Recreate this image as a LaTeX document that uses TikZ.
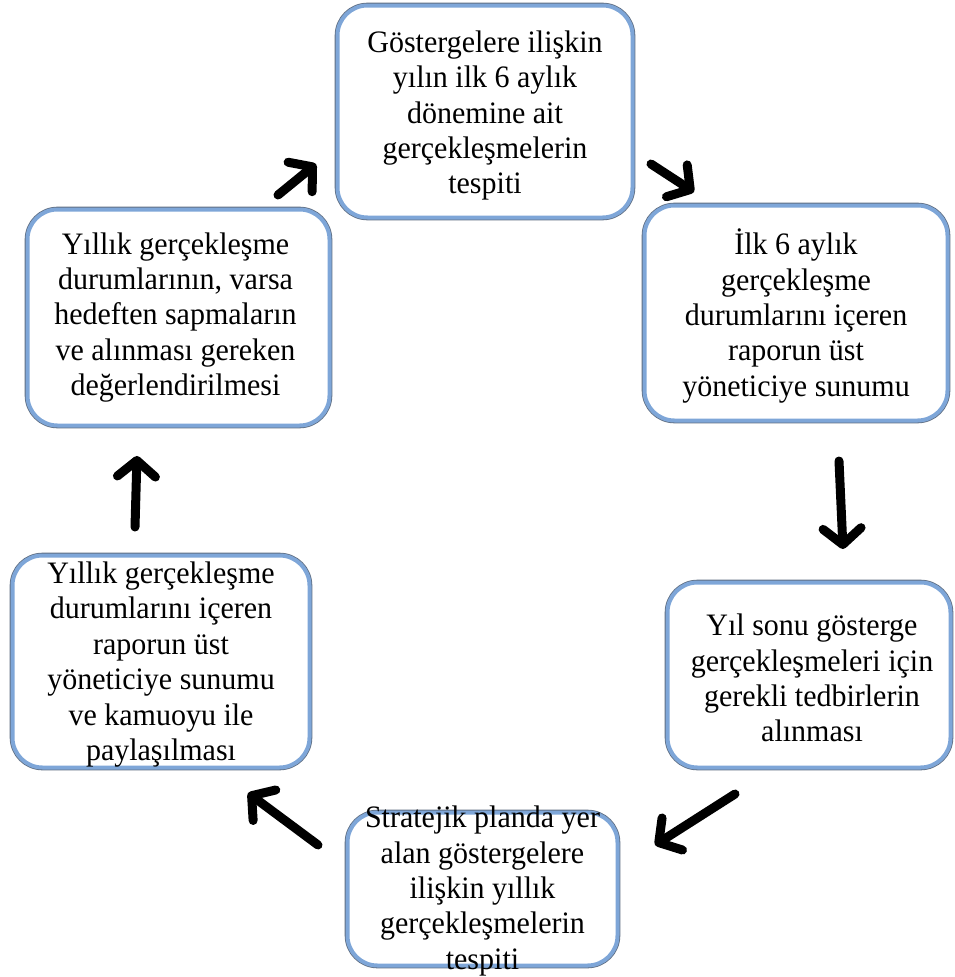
\documentclass[tikz,border=0pt]{standalone}
\usepackage{fontspec}
\setmainfont{Liberation Serif}
\usetikzlibrary{arrows.meta}
\definecolor{boxblue}{RGB}{126,166,216}
\definecolor{boxedge}{RGB}{95,110,130}
\tikzset{
  cyclebox/.style={rectangle, rounded corners=30pt, fill=white, draw=boxblue, line width=4pt,
    preaction={draw=boxedge, line width=5.6pt}, inner sep=0pt},
  boxtext/.style={align=center, inner sep=0pt, font=\fontsize{30}{34}\selectfont, yscale=1.04},
  flow/.style={line width=9pt, line cap=round, -{Straight Barb[length=16pt, width=38pt, round]}}
}
\begin{document}
\begin{tikzpicture}[x=1pt, y=-1pt]
\useasboundingbox (0,0) rectangle (955,977);
% boxes
\node[cyclebox, minimum width=295pt, minimum height=212pt] (b1) at (485,111.5) {};
\node[cyclebox, minimum width=303pt, minimum height=215pt] (b2) at (796,313) {};
\node[cyclebox, minimum width=283pt, minimum height=185pt] (b3) at (809,675) {};
\node[cyclebox, minimum width=270pt, minimum height=153pt] (b4) at (482.5,889) {};
\node[cyclebox, minimum width=297pt, minimum height=212pt] (b5) at (161,661.5) {};
\node[cyclebox, minimum width=302pt, minimum height=216pt] (b6) at (178.5,317.5) {};
% texts
\node[boxtext] (t1) at ([yshift=-4pt]b1.center) {Göstergelere ilişkin\\yılın ilk 6 aylık\\dönemine ait\\gerçekleşmelerin\\tespiti};
\node[boxtext] (t2) at ([yshift=-3pt]b2.center) {İlk 6 aylık\\gerçekleşme\\durumlarını içeren\\raporun üst\\yöneticiye sunumu};
\node[boxtext] (t3) at ([xshift=3pt,yshift=-3pt]b3.center) {Yıl sonu gösterge\\gerçekleşmeleri için\\gerekli tedbirlerin\\alınması};
\node[boxtext] (t4) at ([yshift=-2pt]b4.center) {Stratejik planda yer\\alan göstergelere\\ilişkin yıllık\\gerçekleşmelerin\\tespiti};
\node[boxtext] (t5) at ([yshift=-3pt]b5.center) {Yıllık gerçekleşme\\durumlarını içeren\\raporun üst\\yöneticiye sunumu\\ve kamuoyu ile\\paylaşılması};
\node[boxtext] (t6) at ([xshift=-3pt,yshift=0pt]b6.center) {Yıllık gerçekleşme\\durumlarının, varsa\\hedeften sapmaların\\ve alınması gereken\\değerlendirilmesi};
% arrow endpoints
\coordinate (a61) at (278,195);
\coordinate (a61e) at (316,164);
\coordinate (a12) at (651,164);
\coordinate (a12e) at (694,192);
\coordinate (a23) at (839,461);
\coordinate (a23e) at (843,549);
\coordinate (a34) at (735,794);
\coordinate (a34e) at (655,845);
\coordinate (a45) at (318,845);
\coordinate (a45e) at (248,793);
\coordinate (a56) at (135,527);
\coordinate (a56e) at (137,456);
% arrows
\draw[flow] (a61) -- (a61e);
\draw[flow] (a12) -- (a12e);
\draw[flow] (a23) -- (a23e);
\draw[flow] (a34) -- (a34e);
\draw[flow] (a45) -- (a45e);
\draw[flow] (a56) -- (a56e);
\end{tikzpicture}
\end{document}
